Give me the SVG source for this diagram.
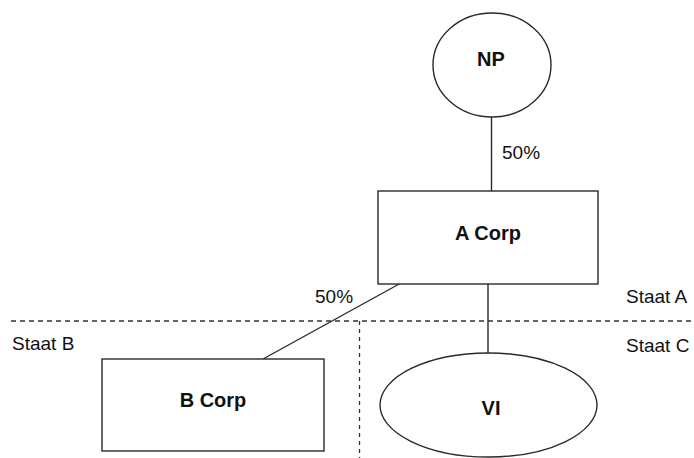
<svg xmlns="http://www.w3.org/2000/svg" width="694" height="458" viewBox="0 0 694 458">
<style>
.shape{fill:#fff;stroke:#2a2a2a;stroke-width:1.4}
.ln{stroke:#2a2a2a;stroke-width:1.4;fill:none}
.dash{stroke:#333;stroke-width:1.3;fill:none;stroke-dasharray:5 4}
.lbl{font-family:"Liberation Sans",Arial,sans-serif;font-size:20px;font-weight:bold;fill:#111;text-anchor:middle}
.txt{font-family:"Liberation Sans",Arial,sans-serif;font-size:19px;fill:#111}
</style>
<rect width="694" height="458" fill="#fff"/>
<g id="borders">
<line class="dash" x1="11" y1="321" x2="694" y2="321"/>
<line class="dash" x1="359.5" y1="321" x2="359.5" y2="458" style="stroke-dasharray:4 4"/>
<text class="txt" x="626" y="303">Staat A</text>
<text class="txt" x="12" y="350">Staat B</text>
<text class="txt" x="626" y="352">Staat C</text>
</g>
<g id="connectors">
<line class="ln" x1="491.5" y1="117" x2="491.5" y2="191"/>
<line class="ln" x1="401" y1="283" x2="263" y2="359"/>
<line class="ln" x1="488" y1="284" x2="488" y2="353"/>
<text class="txt" x="502" y="159">50%</text>
<text class="txt" x="315" y="303">50%</text>
</g>
<g id="NP">
<ellipse class="shape" cx="492" cy="65" rx="59" ry="52"/>
<text class="lbl" x="491" y="66">NP</text>
</g>
<g id="ACorp">
<rect class="shape" x="378" y="191" width="220" height="93"/>
<text class="lbl" x="488" y="240">A Corp</text>
</g>
<g id="BCorp">
<rect class="shape" x="102" y="359" width="222" height="92"/>
<text class="lbl" x="213" y="407">B Corp</text>
</g>
<g id="VI">
<ellipse class="shape" cx="488.5" cy="405" rx="108.5" ry="52"/>
<text class="lbl" x="491" y="415">VI</text>
</g>
</svg>
